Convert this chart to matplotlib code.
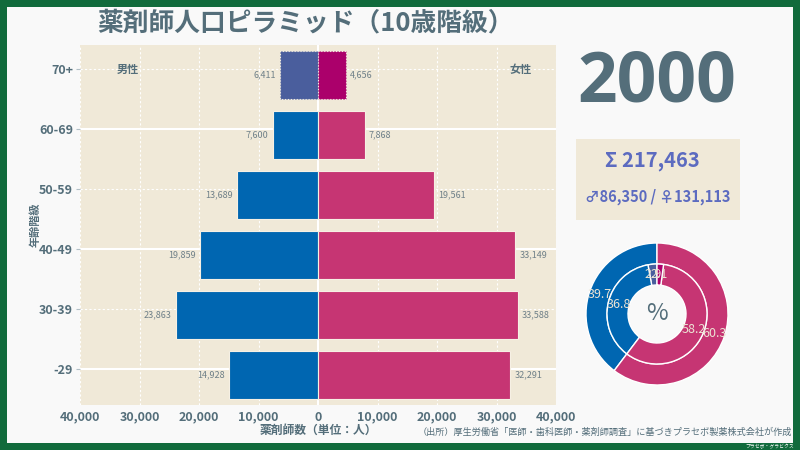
import matplotlib
matplotlib.use("Agg")
import matplotlib.pyplot as plt
import numpy as np

plt.rcParams['font.family'] = ['Noto Sans CJK JP', 'DejaVu Sans']

# ---- data ----
year = "2000"
age_groups = ["-29", "30-39", "40-49", "50-59", "60-69", "70+"]
male = [14928, 23863, 19859, 13689, 7600, 6411]
female = [32291, 33588, 33149, 19561, 7868, 4656]
total = 217463
male_total = 86350
female_total = 131113
outer_pct = [39.7, 60.3]            # male, female
inner_pct = [2.9, 36.8, 58.2, 2.1]  # male 70+, male <70, female <70, female 70+
xticks = [-40000, -30000, -20000, -10000, 0, 10000, 20000, 30000, 40000]
xtick_labels = ["40,000", "30,000", "20,000", "10,000", "0", "10,000", "20,000", "30,000", "40,000"]

# ---- style ----
W, H = 800, 450
SLATE = "#546e7a"
BEIGE = "#f0e9d8"
BLUE = "#0066b1"
PINK = "#c63573"
BLUE_HL = "#4a5e9d"
PINK_HL = "#ab006b"
INDIGO = "#5c6bc0"
GREEN = "#116b3c"
PANEL = "#f9f9f9"

fig = plt.figure(figsize=(8, 4.5), dpi=100)
fig.patch.set_facecolor(GREEN)
# inner panel
fig.patches.append(matplotlib.patches.Rectangle((7/W, 7/H), 1-14/W, 1-14/H,
                   transform=fig.transFigure, facecolor=PANEL, edgecolor="none", zorder=-5))

def fx(px):
    return px / W
def fy(py):
    return 1 - py / H

ax = fig.add_axes([fx(80), fy(405), fx(556) - fx(80), fy(45) - fy(405)])
ax.set_facecolor(BEIGE)
y = np.arange(len(age_groups))
mcols = [BLUE] * 5 + [BLUE_HL]
fcols = [PINK] * 5 + [PINK_HL]
bm = ax.barh(y, [-v for v in male], height=0.8, color=mcols, edgecolor="#f6f0e4", linewidth=0.8, zorder=3)
bf = ax.barh(y, female, height=0.8, color=fcols, edgecolor="#f6f0e4", linewidth=0.8, zorder=3)
bm[5].set_linestyle(":")
bf[5].set_linestyle(":")
ax.set_xlim(-40000, 40000)
ax.set_ylim(-0.5, 5.5)

for i, (m, f) in enumerate(zip(male, female)):
    ax.text(-m - 700, i, f"{m:,}", ha="right", va="center", fontsize=6.5, color="#6f8088", zorder=4)
    ax.text(f + 700, i, f"{f:,}", ha="left", va="center", fontsize=6.5, color="#6f8088", zorder=4)

# ticks
tick_pos = y + 0.1
ax.set_yticks(tick_pos)
ax.set_yticklabels(age_groups, fontsize=9, fontweight="bold", color=SLATE)
ax.set_xticks(xticks)
ax.set_xticklabels(xtick_labels, fontsize=9, fontweight="bold", color=SLATE)
ax.tick_params(axis="y", length=3, color="#b0bec5", pad=2)
ax.tick_params(axis="x", length=0, pad=4)
for s in ax.spines.values():
    s.set_visible(False)

# grid
for xv in xticks:
    if xv == 0:
        ax.axvline(0, color="white", lw=1.5, zorder=2)
    else:
        ax.axvline(xv, color="white", lw=0.8, ls=(0, (2, 2)), zorder=1)
for i, tp in enumerate(tick_pos):
    if i % 2 == 0:
        ax.axhline(tp, color="white", lw=1.5, zorder=1)
    else:
        ax.axhline(tp, color="white", lw=0.8, ls=(0, (2, 2)), zorder=1)

ax.set_xlabel("薬剤師数（単位：人）", fontsize=8.5, fontweight="bold", color=SLATE, labelpad=0)
fig.text(fx(35), fy(225), "年齢階級", rotation=90, ha="center", va="center",
         fontsize=8, fontweight="bold", color=SLATE)

ax.text(-32000, 5.1, "男性", ha="center", va="center", fontsize=8, fontweight="bold", color=SLATE)
ax.text(34000, 5.1, "女性", ha="center", va="center", fontsize=8, fontweight="bold", color=SLATE)

# title
fig.text(fx(97), fy(23), "薬剤師人口ピラミッド（10歳階級）", ha="left", va="center",
         fontsize=18.5, fontweight="bold", color=SLATE)

# year
fig.text(fx(657), fy(84), year, ha="center", va="center", fontsize=50,
         fontweight="bold", color=SLATE, family=["Open Sans", "DejaVu Sans"])

# summary box
fig.patches.append(matplotlib.patches.Rectangle((fx(576), fy(220)), fx(740) - fx(576), fy(139) - fy(220),
                   transform=fig.transFigure, facecolor=BEIGE, edgecolor="none", zorder=-4))
fig.text(fx(652), fy(160), f"Σ {total:,}", ha="center", va="center", fontsize=14.5,
         fontweight="bold", color=INDIGO)
fig.text(fx(658), fy(197), f"♂{male_total:,} / ♀{female_total:,}", ha="center", va="center",
         fontsize=10.5, fontweight="bold", color=INDIGO)

# donut
R = 71
cx, cy = 657, 314
pax = fig.add_axes([fx(cx - R), fy(cy + R), 2 * R / W, 2 * R / H])
pax.pie(outer_pct, radius=1.0, colors=[BLUE, PINK], startangle=90, counterclock=True,
        wedgeprops=dict(width=21 / R, edgecolor="white", linewidth=1),
        labels=[f"{v}" for v in outer_pct], labeldistance=0.85,
        textprops=dict(fontsize=9, color="#ece4d4"))
pax.pie(inner_pct, radius=50 / R, colors=[BLUE_HL, BLUE, PINK, PINK_HL], startangle=90, counterclock=True,
        wedgeprops=dict(width=21 / R, edgecolor="white", linewidth=1),
        labels=[f"{v}" for v in inner_pct], labeldistance=0.79,
        textprops=dict(fontsize=9, color="#ece4d4"))
for t in pax.texts:
    t.set_ha("center")
    t.set_va("center")
pax.text(0, 0, "%", ha="center", va="center", fontsize=17, color=SLATE)
pax.set_xlim(-1, 1)
pax.set_ylim(-1, 1)
pax.set_aspect("equal")
pax.axis("off")

# source
fig.text(fx(792), fy(432), "（出所）厚生労働省「医師・歯科医師・薬剤師調査」に基づきプラセボ製薬株式会社が作成",
         ha="right", va="center", fontsize=6.6, color=SLATE)
fig.text(fx(794), fy(446.5), "プラセボ・グラビクス", ha="right", va="center", fontsize=3.5, color="white")

fig.savefig("out.png", dpi=100, facecolor=fig.get_facecolor())
